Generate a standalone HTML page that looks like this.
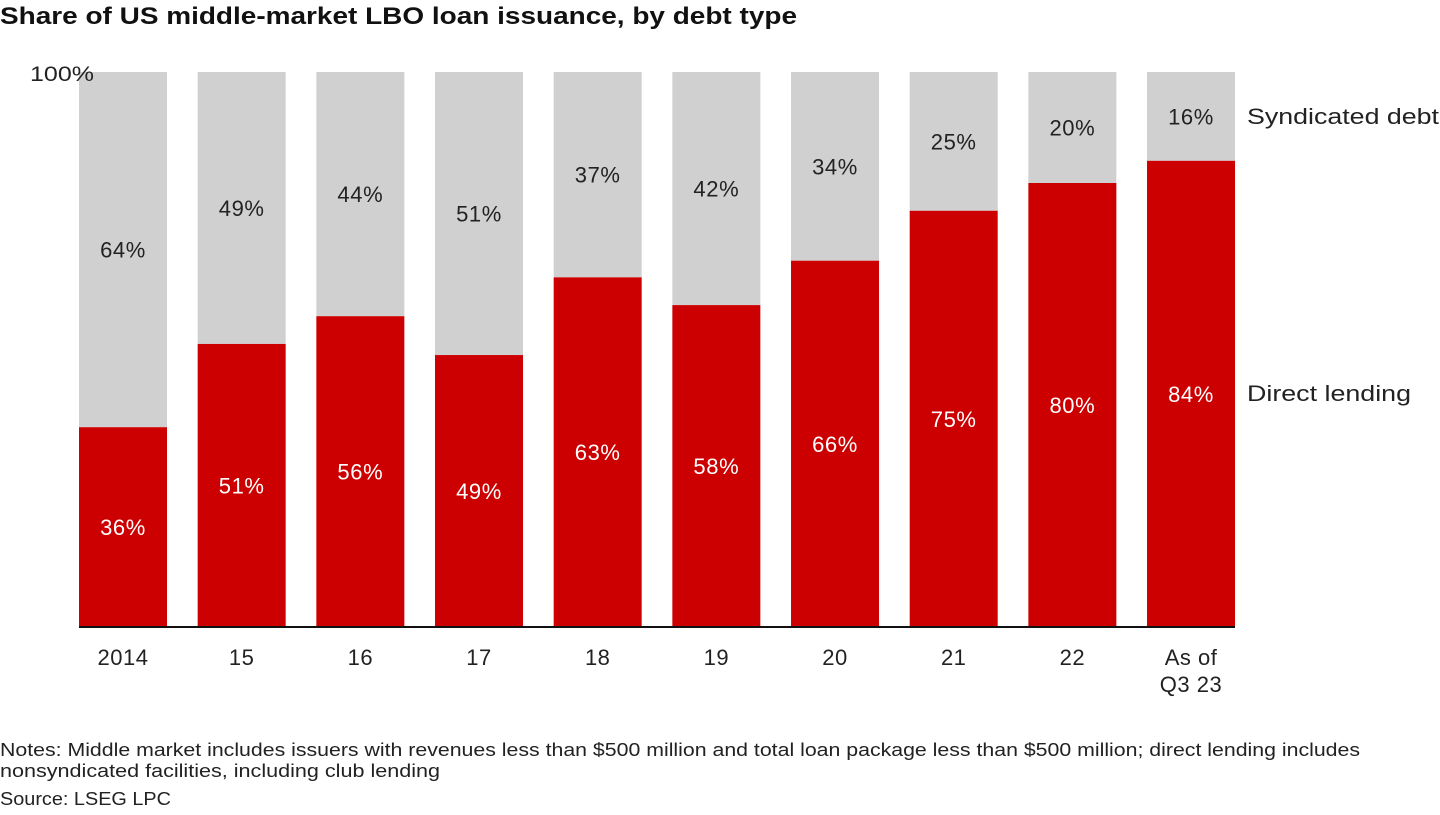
<!DOCTYPE html>
<html><head><meta charset="utf-8">
<style>
html,body{margin:0;padding:0;background:#fff;}
body{width:1440px;height:810px;overflow:hidden;font-family:"Liberation Sans",sans-serif;}
svg text{font-family:"Liberation Sans",sans-serif;}
</style></head>
<body>
<svg id="chart" width="1440" height="810" xmlns="http://www.w3.org/2000/svg">
<text x="0" y="24" font-size="24" font-weight="bold" fill="#111" textLength="797" lengthAdjust="spacingAndGlyphs">Share of US middle-market LBO loan issuance, by debt type</text>
<g id="bars"></g>
<text x="30" y="81" font-size="21" fill="#222" textLength="64" lengthAdjust="spacingAndGlyphs">100%</text>
<line x1="79" x2="1235" y1="627" y2="627" stroke="#111" stroke-width="2"/>
<text x="1247" y="124" font-size="22" fill="#222" textLength="192" lengthAdjust="spacingAndGlyphs">Syndicated debt</text>
<text x="1247" y="401" font-size="22" fill="#222" textLength="164" lengthAdjust="spacingAndGlyphs">Direct lending</text>
<text x="0" y="756" font-size="18" fill="#222" textLength="1360" lengthAdjust="spacingAndGlyphs">Notes: Middle market includes issuers with revenues less than $500 million and total loan package less than $500 million; direct lending includes</text>
<text x="0" y="777" font-size="18" fill="#222" textLength="440" lengthAdjust="spacingAndGlyphs">nonsyndicated facilities, including club lending</text>
<text x="0" y="805" font-size="18" fill="#222" textLength="171" lengthAdjust="spacingAndGlyphs">Source: LSEG LPC</text>
</svg>
<script>
const categories = ["2014","15","16","17","18","19","20","21","22","As of|Q3 23"];
const directValues = [36,51,56,49,63,58,66,75,80,84];

const svgNS = "http://www.w3.org/2000/svg";
const g = document.getElementById("bars");
const top0 = 72, base = 627, x0 = 79, pitch = 118.67, bw = 88;
function yScale(v){ return base - (v/100)*(base-top0); }
function xScale(i){ return x0 + i*pitch; }
function mk(tag, attrs){ const e=document.createElementNS(svgNS,tag); for(const k in attrs) e.setAttribute(k,attrs[k]); g.appendChild(e); return e; }
categories.forEach((c,i)=>{
  const d = directValues[i], s = 100 - d;
  const x = xScale(i), yd = yScale(d);
  const gr = mk("rect",{x:x,y:top0,width:bw,height:yd-top0,fill:"#d0d0d0"});
  
  
  const rr = mk("rect",{x:x,y:yd,width:bw,height:base-yd,fill:"#cc0000"});
  
  
  const ts = mk("text",{x:x+bw/2,y:(top0+yd)/2+8,"text-anchor":"middle","font-size":"22","letter-spacing":"0.6",fill:"#222"});
  ts.textContent = s+"%";
  
  
  const td = mk("text",{x:x+bw/2,y:(yd+base)/2+8,"text-anchor":"middle","font-size":"22","letter-spacing":"0.6",fill:"#fff"});
  td.textContent = d+"%";
  
  
  c.split("|").forEach((line,j)=>{
    const t = mk("text",{x:x+bw/2,y:665+j*27,"text-anchor":"middle","font-size":"22","letter-spacing":"0.5",fill:"#222"});
    t.textContent = line;
    
    
  });
});
</script>
</body></html>
